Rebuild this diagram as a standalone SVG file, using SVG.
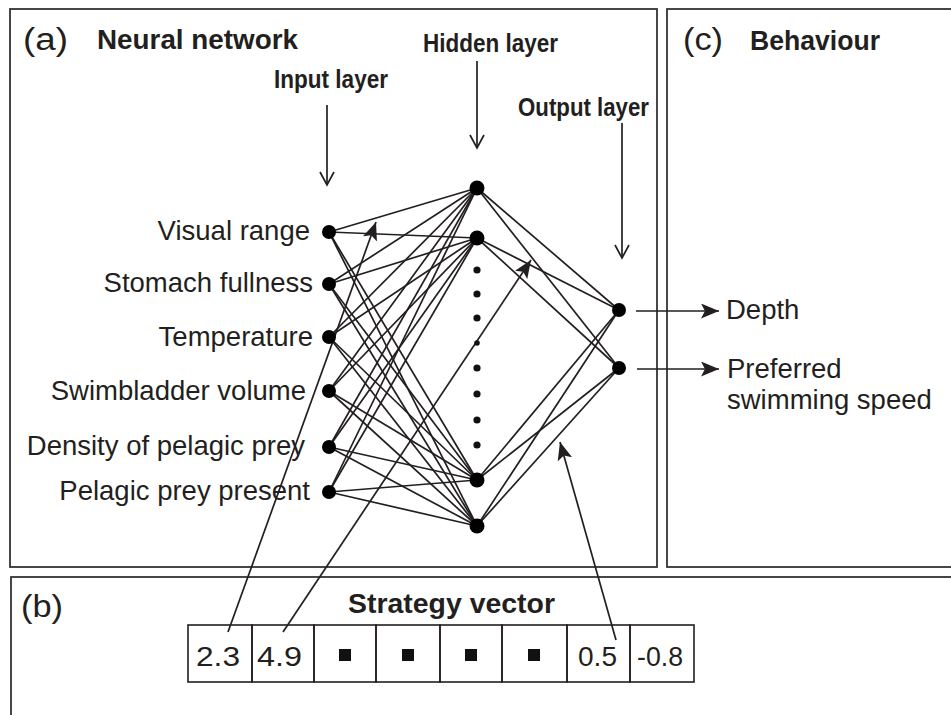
<svg xmlns="http://www.w3.org/2000/svg" width="951" height="715" viewBox="0 0 951 715">
<style>
.box{fill:none;stroke:#333;stroke-width:1.8}
.t{font-family:"Liberation Sans",Arial,sans-serif;fill:#231f20}
.lbl{font-size:27.5px}
.big{font-size:31px}
.hb{font-weight:bold;font-size:27px}
.nb{font-family:"Liberation Sans Narrow","Liberation Sans",Arial,sans-serif;font-weight:bold;font-size:26px;fill:#231f20}
.sv{font-size:27px}
.num{font-size:27px}
.w{stroke:#231f20;stroke-width:1.7;fill:none}
.n{fill:#000}
.d{fill:#111}
.cell{fill:none;stroke:#231f20;stroke-width:1.6}
</style>
<defs>
<marker id="open" markerWidth="16" markerHeight="16" refX="14" refY="8" orient="auto" markerUnits="userSpaceOnUse">
<path d="M1,1 L14,8 L1,15" fill="none" stroke="#231f20" stroke-width="1.7"/>
</marker>
<marker id="fill" markerWidth="20" markerHeight="16" refX="18" refY="7.5" orient="auto" markerUnits="userSpaceOnUse">
<path d="M0,0 L18,7.5 L0,15 L4,7.5 Z" fill="#231f20"/>
</marker>
</defs>
<rect width="951" height="715" fill="#fff"/>

<g id="panels">
<rect class="box" x="10" y="9" width="647" height="558"/>
<rect class="box" x="667" y="9" width="300" height="558"/>
<rect class="box" x="11" y="577" width="960" height="160"/>
</g>

<g id="titles">
<text class="t big" x="23" y="50" textLength="45" lengthAdjust="spacingAndGlyphs">(a)</text>
<text class="t hb" x="97" y="49" textLength="201" lengthAdjust="spacingAndGlyphs">Neural network</text>
<text class="t big" x="683" y="50" textLength="40" lengthAdjust="spacingAndGlyphs">(c)</text>
<text class="t hb" x="750" y="50" textLength="130" lengthAdjust="spacingAndGlyphs">Behaviour</text>
<text class="t big" x="21" y="617" textLength="42" lengthAdjust="spacingAndGlyphs">(b)</text>
<text class="nb" x="423" y="52" textLength="135" lengthAdjust="spacingAndGlyphs">Hidden layer</text>
<text class="nb" x="274" y="88" textLength="114" lengthAdjust="spacingAndGlyphs">Input layer</text>
<text class="nb" x="518" y="116" textLength="131" lengthAdjust="spacingAndGlyphs">Output layer</text>
<text class="nb sv" x="348" y="613" textLength="207" lengthAdjust="spacingAndGlyphs">Strategy vector</text>
</g>

<g id="connectors">
<line class="w" x1="327" y1="105" x2="327" y2="185" marker-end="url(#open)"/>
<line class="w" x1="477" y1="61" x2="477" y2="148" marker-end="url(#open)"/>
<line class="w" x1="622" y1="123" x2="622" y2="258" marker-end="url(#open)"/>
<g class="w">
<line x1="329" y1="232" x2="477" y2="188"/><line x1="329" y1="232" x2="477" y2="238"/><line x1="329" y1="232" x2="477" y2="480"/><line x1="329" y1="232" x2="477" y2="526"/>
<line x1="329" y1="284" x2="477" y2="188"/><line x1="329" y1="284" x2="477" y2="238"/><line x1="329" y1="284" x2="477" y2="480"/><line x1="329" y1="284" x2="477" y2="526"/>
<line x1="329" y1="337" x2="477" y2="188"/><line x1="329" y1="337" x2="477" y2="238"/><line x1="329" y1="337" x2="477" y2="480"/><line x1="329" y1="337" x2="477" y2="526"/>
<line x1="329" y1="391" x2="477" y2="188"/><line x1="329" y1="391" x2="477" y2="238"/><line x1="329" y1="391" x2="477" y2="480"/><line x1="329" y1="391" x2="477" y2="526"/>
<line x1="329" y1="447" x2="477" y2="188"/><line x1="329" y1="447" x2="477" y2="238"/><line x1="329" y1="447" x2="477" y2="480"/><line x1="329" y1="447" x2="477" y2="526"/>
<line x1="329" y1="492" x2="477" y2="188"/><line x1="329" y1="492" x2="477" y2="238"/><line x1="329" y1="492" x2="477" y2="480"/><line x1="329" y1="492" x2="477" y2="526"/>
<line x1="477" y1="188" x2="619" y2="310"/><line x1="477" y1="188" x2="619" y2="368"/>
<line x1="477" y1="238" x2="619" y2="310"/><line x1="477" y1="238" x2="619" y2="368"/>
<line x1="477" y1="480" x2="619" y2="310"/><line x1="477" y1="480" x2="619" y2="368"/>
<line x1="477" y1="526" x2="619" y2="310"/><line x1="477" y1="526" x2="619" y2="368"/>
</g>
<line class="w" x1="228" y1="632" x2="376" y2="222" marker-end="url(#fill)"/>
<line class="w" x1="283" y1="632" x2="531" y2="260" marker-end="url(#fill)"/>
<line class="w" x1="616" y1="640" x2="560" y2="442" marker-end="url(#fill)"/>
<line class="w" x1="636" y1="311" x2="719" y2="311" marker-end="url(#fill)"/>
<line class="w" x1="637" y1="369" x2="719" y2="369" marker-end="url(#fill)"/>
</g>

<g id="input-nodes">
<g id="in-visual"><circle class="n" cx="329" cy="232" r="7"/><text class="t lbl" x="310" y="240" text-anchor="end">Visual range</text></g>
<g id="in-stomach"><circle class="n" cx="329" cy="284" r="7"/><text class="t lbl" x="313" y="292" text-anchor="end">Stomach fullness</text></g>
<g id="in-temp"><circle class="n" cx="329" cy="337" r="7"/><text class="t lbl" x="313" y="346" text-anchor="end">Temperature</text></g>
<g id="in-swim"><circle class="n" cx="329" cy="391" r="7"/><text class="t lbl" x="306" y="400" text-anchor="end">Swimbladder volume</text></g>
<g id="in-density"><circle class="n" cx="329" cy="447" r="7"/><text class="t lbl" x="305" y="455" text-anchor="end">Density of pelagic prey</text></g>
<g id="in-present"><circle class="n" cx="329" cy="492" r="7"/><text class="t lbl" x="310" y="500" text-anchor="end">Pelagic prey present</text></g>
</g>

<g id="hidden-nodes">
<g id="h1"><circle class="n" cx="477" cy="188" r="7.5"/></g>
<g id="h2"><circle class="n" cx="477" cy="238" r="7.5"/></g>
<g id="h-dots">
<circle class="d" cx="477" cy="270" r="3.6"/><circle class="d" cx="477" cy="294" r="3.6"/><circle class="d" cx="477" cy="318" r="3.6"/><circle class="d" cx="477" cy="343" r="2.8"/>
<circle class="d" cx="477" cy="368" r="3.6"/><circle class="d" cx="477" cy="394" r="3.6"/><circle class="d" cx="477" cy="420" r="3.6"/><circle class="d" cx="477" cy="445" r="3.6"/>
</g>
<g id="h3"><circle class="n" cx="477" cy="480" r="7.5"/></g>
<g id="h4"><circle class="n" cx="477" cy="526" r="7.5"/></g>
</g>

<g id="output-nodes">
<g id="out-depth"><circle class="n" cx="619" cy="310" r="7"/><text class="t lbl" x="726" y="319">Depth</text></g>
<g id="out-speed"><circle class="n" cx="619" cy="368" r="7"/><text class="t lbl" x="727" y="378">Preferred</text><text class="t lbl" x="727" y="409">swimming speed</text></g>
</g>

<g id="strategy-vector">
<rect class="cell" x="188" y="625" width="64" height="57"/>
<rect class="cell" x="252" y="625" width="62" height="57"/>
<rect class="cell" x="314" y="625" width="62" height="57"/>
<rect class="cell" x="376" y="625" width="64" height="57"/>
<rect class="cell" x="440" y="625" width="62" height="57"/>
<rect class="cell" x="502" y="625" width="65" height="57"/>
<rect class="cell" x="567" y="625" width="63" height="57"/>
<rect class="cell" x="630" y="625" width="64" height="57"/>
<text class="t num" x="196" y="666" textLength="44" lengthAdjust="spacingAndGlyphs">2.3</text>
<text class="t num" x="257" y="666" textLength="45" lengthAdjust="spacingAndGlyphs">4.9</text>
<rect class="d" x="339" y="649" width="12" height="12"/>
<rect class="d" x="402" y="649" width="12" height="12"/>
<rect class="d" x="465" y="649" width="12" height="12"/>
<rect class="d" x="528" y="649" width="12" height="12"/>
<text class="t num" x="578" y="666" textLength="39" lengthAdjust="spacingAndGlyphs">0.5</text>
<text class="t num" x="637" y="666" textLength="46" lengthAdjust="spacingAndGlyphs">-0.8</text>
</g>
</svg>
